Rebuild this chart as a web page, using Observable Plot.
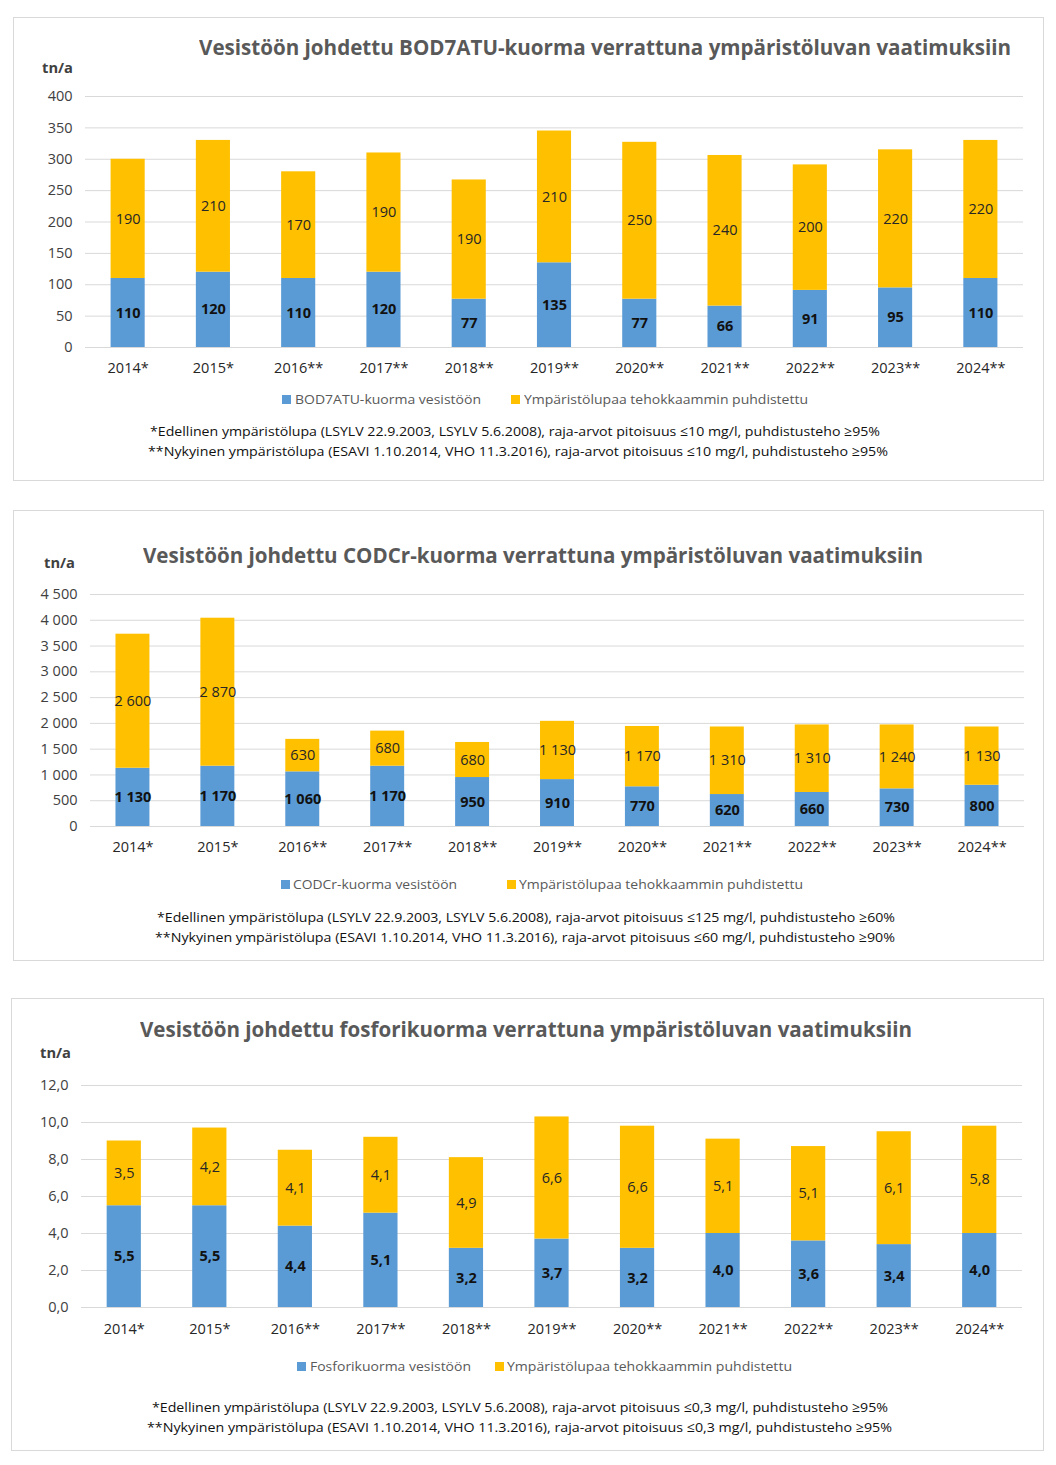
<!DOCTYPE html>
<html><head><meta charset="utf-8">
<script src="https://cdn.jsdelivr.net/npm/d3@7"></script>
<script src="https://cdn.jsdelivr.net/npm/@observablehq/plot@0.6"></script>
<style>
html,body{margin:0;padding:0;background:#fff;}
body{width:1056px;height:1465px;position:relative;overflow:hidden;font-family:"Open Sans",sans-serif;}
.panel{position:absolute;border:1px solid #d9d9d9;box-sizing:border-box;}
.t{position:absolute;white-space:nowrap;transform-origin:0 50%;}
.sw{position:absolute;width:9px;height:9px;}
.chart{position:absolute;left:0;}
</style>
</head><body>
<script>
// ---------- data ----------
const years = ["2014*","2015*","2016**","2017**","2018**","2019**","2020**","2021**","2022**","2023**","2024**"];

const bodLoad  = [110,120,110,120,77,135,77,66,91,95,110];
const bodExtra = [190,210,170,190,190,210,250,240,200,220,220];

const codLoad  = [1130,1170,1060,1170,950,910,770,620,660,730,800];
const codExtra = [2600,2870,630,680,680,1130,1170,1310,1310,1240,1130];

const pLoad  = [5.5,5.5,4.4,5.1,3.2,3.7,3.2,4.0,3.6,3.4,4.0];
const pExtra = [3.5,4.2,4.1,4.1,4.9,6.6,6.6,5.1,5.1,6.1,5.8];

const bodTicks = [0,50,100,150,200,250,300,350,400];
const codTicks = [0,500,1000,1500,2000,2500,3000,3500,4000,4500];
const pTicks   = [0,2,4,6,8,10,12];

const extraName = "Ympäristölupaa tehokkaammin puhdistettu";
const bodName = "BOD7ATU-kuorma vesistöön";
const codName = "CODCr-kuorma vesistöön";
const pName   = "Fosforikuorma vesistöön";

const titles = [
  "Vesistöön johdettu BOD7ATU-kuorma verrattuna ympäristöluvan vaatimuksiin",
  "Vesistöön johdettu CODCr-kuorma verrattuna ympäristöluvan vaatimuksiin",
  "Vesistöön johdettu fosforikuorma verrattuna ympäristöluvan vaatimuksiin"
];
const unit = "tn/a";
const notes = [
  ["*Edellinen ympäristölupa (LSYLV 22.9.2003, LSYLV 5.6.2008), raja-arvot pitoisuus ≤10 mg/l, puhdistusteho ≥95%",
   "**Nykyinen ympäristölupa (ESAVI 1.10.2014, VHO 11.3.2016), raja-arvot pitoisuus ≤10 mg/l, puhdistusteho ≥95%"],
  ["*Edellinen ympäristölupa (LSYLV 22.9.2003, LSYLV 5.6.2008), raja-arvot pitoisuus ≤125 mg/l, puhdistusteho ≥60%",
   "**Nykyinen ympäristölupa (ESAVI 1.10.2014, VHO 11.3.2016), raja-arvot pitoisuus ≤60 mg/l, puhdistusteho ≥90%"],
  ["*Edellinen ympäristölupa (LSYLV 22.9.2003, LSYLV 5.6.2008), raja-arvot pitoisuus ≤0,3 mg/l, puhdistusteho ≥95%",
   "**Nykyinen ympäristölupa (ESAVI 1.10.2014, VHO 11.3.2016), raja-arvot pitoisuus ≤0,3 mg/l, puhdistusteho ≥95%"]
];

const BLUE = "#5B9BD5", YELLOW = "#FFC000";

// ---------- helpers ----------
const fmtInt = d => String(d);
const fmtSpace = d => d3.format(",")(d).replace(/,/g, "\u00a0");
const fmtComma = d => d.toFixed(1).replace(".", ",");

function place(txt, {x, w, cy, size, weight = 400, color = "#595959"}) {
  const el = document.createElement("div");
  el.className = "t";
  el.textContent = txt;
  el.style.left = x + "px";
  el.style.top = (cy - size / 2) + "px";
  el.style.fontSize = size + "px";
  el.style.lineHeight = size + "px";
  el.style.height = size + "px";
  el.style.fontWeight = weight;
  el.style.color = color;
  document.body.appendChild(el);
  const nat = el.getBoundingClientRect().width;
  if (w && nat > 0) el.style.transform = `scaleX(${w / nat})`;
  return el;
}
function swatch(x, cy, color) {
  const s = document.createElement("div");
  s.className = "sw";
  s.style.left = x + "px";
  s.style.top = (cy - 4.5) + "px";
  s.style.background = color;
  document.body.appendChild(s);
}
function panel(x, y, w, h) {
  const p = document.createElement("div");
  p.className = "panel";
  Object.assign(p.style, {left: x + "px", top: y + "px", width: w + "px", height: h + "px"});
  document.body.appendChild(p);
}

function chart({load, extra, name, ticks, tickFmt, labelFmt, top, height, mt, mb, ml, mr, xpad}) {
  const names = [name, extraName];
  const data = years.flatMap((yr, i) => [
    {year: yr, series: name, value: load[i]},
    {year: yr, series: extraName, value: extra[i]}
  ]);
  const stackOpts = {x: "year", y: "value", z: "series", order: names};
  const svg = Plot.plot({
    width: 1056, height,
    marginTop: mt, marginBottom: mb, marginLeft: ml, marginRight: mr,
    style: {fontFamily: "'Open Sans', sans-serif", fontSize: "14.5px", background: "transparent", color: "#404040"},
    x: {domain: years, paddingInner: 0.6, paddingOuter: 0.3, round: false, label: null},
    y: {domain: [0, ticks[ticks.length - 1]], label: null},
    color: {domain: names, range: [BLUE, YELLOW]},
    marks: [
      Plot.ruleY(ticks, {stroke: "#d9d9d9", strokeWidth: 1}),
      Plot.barY(data, Plot.stackY({...stackOpts, fill: "series"})),
      Plot.text(data, Plot.stackY({...stackOpts,
        text: d => d.series === name ? labelFmt(d.value) : null,
        fill: "#111", fontWeight: "bold", fontSize: 14.5})),
      Plot.text(data, Plot.stackY({...stackOpts,
        text: d => d.series === extraName ? labelFmt(d.value) : null,
        fill: "#262626", fontSize: 14.5})),
      Plot.axisY(ticks, {tickSize: 0, tickPadding: 13, tickFormat: tickFmt, color: "#404040", label: null, fontSize: 14.5}),
      Plot.axisX({tickSize: 0, tickPadding: xpad, color: "#262626", label: null, fontSize: 14.5})
    ]
  });
  const wrap = document.createElement("div");
  wrap.className = "chart";
  wrap.style.top = top + "px";
  wrap.appendChild(svg);
  document.body.appendChild(wrap);
}

// ---------- panel 1: BOD ----------
panel(13, 17, 1031, 464);
chart({load: bodLoad, extra: bodExtra, name: bodName, ticks: bodTicks, tickFmt: fmtInt, labelFmt: fmtInt,
       top: 80, height: 300, mt: 16, mb: 33, ml: 85, mr: 33, xpad: 15});
place(titles[0], {x: 199, w: 812, cy: 46, size: 22, weight: 700});
place(unit, {x: 42, w: 31, cy: 68, size: 14, weight: 700, color: "#404040"});
swatch(282, 399, BLUE);
place(bodName, {x: 295, w: 186, cy: 399, size: 13});
swatch(511, 399, YELLOW);
place(extraName, {x: 524, w: 284, cy: 399, size: 13});
place(notes[0][0], {x: 150, w: 730, cy: 432, size: 13.5, color: "#111"});
place(notes[0][1], {x: 148, w: 740, cy: 452, size: 13.5, color: "#111"});

// ---------- panel 2: COD ----------
panel(13, 510, 1031, 451);
chart({load: codLoad, extra: codExtra, name: codName, ticks: codTicks, tickFmt: fmtSpace, labelFmt: fmtSpace,
       top: 580, height: 290, mt: 14, mb: 44, ml: 90, mr: 32, xpad: 15});
place(titles[1], {x: 143, w: 780, cy: 554, size: 22, weight: 700});
place(unit, {x: 44, w: 31, cy: 563, size: 14, weight: 700, color: "#404040"});
swatch(281, 884, BLUE);
place(codName, {x: 293, w: 164, cy: 884, size: 13});
swatch(507, 884, YELLOW);
place(extraName, {x: 519, w: 284, cy: 884, size: 13});
place(notes[1][0], {x: 157, w: 738, cy: 918, size: 13.5, color: "#111"});
place(notes[1][1], {x: 155, w: 740, cy: 938, size: 13.5, color: "#111"});

// ---------- panel 3: P ----------
panel(11, 998, 1033, 453);
chart({load: pLoad, extra: pExtra, name: pName, ticks: pTicks, tickFmt: fmtComma, labelFmt: fmtComma,
       top: 1070, height: 280, mt: 15, mb: 43, ml: 81, mr: 34, xpad: 16});
place(titles[2], {x: 140, w: 772, cy: 1028, size: 22, weight: 700});
place(unit, {x: 40, w: 31, cy: 1053, size: 14, weight: 700, color: "#404040"});
swatch(297, 1366, BLUE);
place(pName, {x: 310, w: 161, cy: 1366, size: 13});
swatch(495, 1366, YELLOW);
place(extraName, {x: 507, w: 285, cy: 1366, size: 13});
place(notes[2][0], {x: 152, w: 736, cy: 1408, size: 13.5, color: "#111"});
place(notes[2][1], {x: 147, w: 745, cy: 1428, size: 13.5, color: "#111"});
</script>
</body></html>
